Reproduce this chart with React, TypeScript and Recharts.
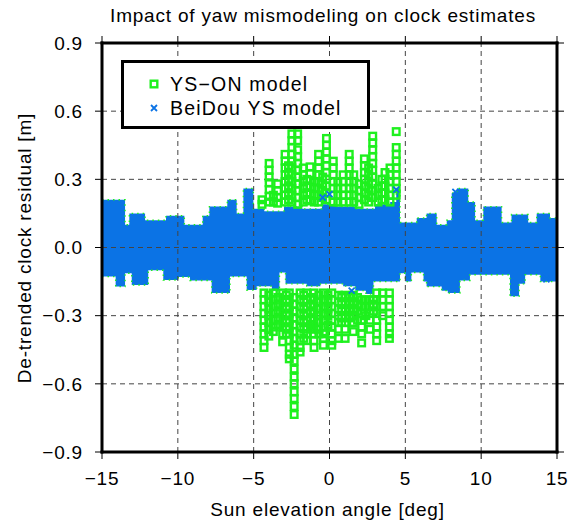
import React from 'react'
import {
  ComposedChart, Area, Scatter, XAxis, YAxis, ReferenceLine, Legend,
} from 'recharts'

// couleurs et police
const BLUE = '#0b73e5'
const GREEN = '#1ef01e'
const FONT = '"Liberation Sans", Arial, sans-serif'

const X_TICKS = [-15, -10, -5, 0, 5, 10, 15]
const Y_TICKS = [-0.9, -0.6, -0.3, 0, 0.3, 0.6, 0.9]

// enveloppe de la bande bleue (BeiDou YS), en escalier
const UPPER_X = [-15, -13.48, -13.2, -12.16, -10.78, -9.57, -8.36, -7.92, -6.74, -6.12, -5.68, -5.02, -4.3, -3.0, -1.8, -0.5, 0.5, 1.8, 3.0, 4.0, 4.4, 4.65, 5.75, 6.4, 7.07, 7.73, 8.06, 8.4, 9.15, 9.6, 10.14, 11.35, 12.0, 13.1, 13.66, 14.54]
const UPPER_Y = [0.21, 0.10, 0.15, 0.12, 0.14, 0.10, 0.14, 0.18, 0.21, 0.15, 0.26, 0.17, 0.16, 0.18, 0.17, 0.19, 0.18, 0.17, 0.19, 0.2, 0.26, 0.11, 0.13, 0.15, 0.10, 0.12, 0.24, 0.26, 0.20, 0.12, 0.18, 0.11, 0.145, 0.11, 0.15, 0.13]
const LOWER_X = [-15, -14.1, -13.48, -13.04, -11.95, -10.96, -9.97, -9.2, -7.77, -6.56, -5.46, -4.8, -3.8, -3.3, -2.9, -1.5, -0.6, 0.9, 1.7, 2.4, 2.9, 4.65, 5.0, 5.4, 6.2, 6.4, 7.4, 7.8, 8.6, 9.26, 11.9, 12.5, 12.9, 13.9]
const LOWER_Y = [-0.128, -0.172, -0.113, -0.165, -0.10, -0.143, -0.13, -0.145, -0.20, -0.128, -0.187, -0.17, -0.19, -0.11, -0.16, -0.17, -0.16, -0.17, -0.19, -0.205, -0.15, -0.113, -0.15, -0.11, -0.15, -0.172, -0.19, -0.20, -0.145, -0.12, -0.215, -0.16, -0.12, -0.15]

// quelques croix bleues isolées hors de la bande
const BLUE_OUTLIERS = [
  { x: 0.0, y: 0.235 }, { x: 4.4, y: 0.255 }, { x: 8.3, y: 0.245 },
  { x: 1.46, y: -0.19 }, { x: 14.3, y: -0.14 }, { x: -0.45, y: 0.22 },
]

// colonnes de carrés verts (YS-ON) visibles hors de la bande
const GREEN_UPPER = [
  { x: -4.45, ys: [0.21, 0.19] },
  { x: -3.98, ys: [0.37, 0.34, 0.31, 0.285, 0.255, 0.225, 0.2] },
  { x: -3.7, ys: [0.23, 0.2] },
  { x: -3.42, ys: [0.28, 0.25, 0.22, 0.195] },
  { x: -2.93, ys: [0.41, 0.38, 0.35, 0.32, 0.29, 0.26, 0.23, 0.2] },
  { x: -2.7, ys: [0.36, 0.33, 0.3, 0.27, 0.24, 0.21] },
  { x: -2.48, ys: [0.5, 0.47, 0.44, 0.41, 0.38, 0.35, 0.32, 0.29, 0.26, 0.23, 0.2] },
  { x: -2.1, ys: [0.5, 0.47, 0.43, 0.4, 0.37, 0.34, 0.31, 0.28, 0.25, 0.22, 0.19] },
  { x: -1.73, ys: [0.35, 0.32, 0.29, 0.26, 0.23, 0.2] },
  { x: -1.5, ys: [0.3, 0.27, 0.24, 0.21] },
  { x: -1.28, ys: [0.355, 0.325, 0.295, 0.265, 0.235, 0.205] },
  { x: -1.0, ys: [0.29, 0.26, 0.23, 0.2] },
  { x: -0.72, ys: [0.41, 0.38, 0.35, 0.32, 0.29, 0.26, 0.23, 0.2] },
  { x: -0.45, ys: [0.31, 0.28, 0.25, 0.22] },
  { x: -0.2, ys: [0.48, 0.45, 0.42, 0.39, 0.36, 0.33, 0.3, 0.27, 0.24, 0.21] },
  { x: 0.25, ys: [0.38, 0.35, 0.32, 0.29, 0.26, 0.23, 0.2] },
  { x: 0.55, ys: [0.29, 0.26, 0.23, 0.2] },
  { x: 0.9, ys: [0.32, 0.29, 0.26, 0.23, 0.2] },
  { x: 1.3, ys: [0.41, 0.38, 0.35, 0.32, 0.29, 0.26, 0.23, 0.2] },
  { x: 1.6, ys: [0.32, 0.29, 0.26, 0.23, 0.2] },
  { x: 1.95, ys: [0.28, 0.25, 0.22, 0.19] },
  { x: 2.3, ys: [0.39, 0.36, 0.33, 0.3, 0.27, 0.24, 0.21] },
  { x: 2.58, ys: [0.35, 0.32, 0.29, 0.26, 0.23, 0.2] },
  { x: 2.85, ys: [0.49, 0.46, 0.43, 0.4, 0.37, 0.34, 0.31, 0.28, 0.25, 0.22] },
  { x: 3.2, ys: [0.26, 0.23, 0.2] },
  { x: 3.45, ys: [0.3, 0.27, 0.24, 0.21] },
  { x: 3.66, ys: [0.33, 0.3, 0.27, 0.24, 0.21] },
  { x: 3.99, ys: [0.35, 0.32, 0.29, 0.26, 0.23, 0.2] },
  { x: 4.4, ys: [0.51, 0.44, 0.41, 0.38, 0.35, 0.32, 0.29, 0.26, 0.23] },
]
const GREEN_LOWER = [
  { x: -4.32, ys: [-0.2, -0.23, -0.26, -0.29, -0.32, -0.35, -0.38, -0.41, -0.44] },
  { x: -4.0, ys: [-0.21, -0.24, -0.27, -0.3, -0.33, -0.36, -0.39] },
  { x: -3.7, ys: [-0.2, -0.23, -0.26, -0.29, -0.32, -0.35, -0.37] },
  { x: -3.4, ys: [-0.22, -0.25, -0.28, -0.31, -0.34] },
  { x: -3.09, ys: [-0.2, -0.23, -0.26, -0.29, -0.32, -0.35, -0.38, -0.415] },
  { x: -2.85, ys: [-0.21, -0.24, -0.27, -0.3, -0.33, -0.36, -0.38] },
  { x: -2.65, ys: [-0.2, -0.23, -0.26, -0.29, -0.32, -0.35, -0.38, -0.41, -0.44, -0.47, -0.49] },
  { x: -2.33, ys: [-0.22, -0.25, -0.28, -0.31, -0.34, -0.37, -0.4, -0.43, -0.47, -0.5, -0.535, -0.57, -0.6, -0.635, -0.665, -0.7, -0.735] },
  { x: -1.94, ys: [-0.2, -0.23, -0.26, -0.29, -0.32, -0.35, -0.38, -0.41, -0.44, -0.46] },
  { x: -1.7, ys: [-0.21, -0.24, -0.27, -0.3, -0.33, -0.36, -0.4] },
  { x: -1.5, ys: [-0.2, -0.23, -0.26, -0.29, -0.32, -0.35, -0.38, -0.41] },
  { x: -1.25, ys: [-0.22, -0.25, -0.28, -0.31, -0.34, -0.36] },
  { x: -1.02, ys: [-0.2, -0.23, -0.26, -0.29, -0.32, -0.35, -0.38, -0.41, -0.44] },
  { x: -0.7, ys: [-0.21, -0.24, -0.27, -0.3, -0.33, -0.36, -0.38] },
  { x: -0.4, ys: [-0.2, -0.23, -0.26, -0.29, -0.32, -0.35, -0.38, -0.4, -0.43] },
  { x: -0.1, ys: [-0.21, -0.24, -0.27, -0.3, -0.34] },
  { x: 0.15, ys: [-0.2, -0.23, -0.26, -0.29, -0.32, -0.35, -0.38, -0.41, -0.43] },
  { x: 0.59, ys: [-0.21, -0.24, -0.27, -0.3, -0.33, -0.36, -0.4] },
  { x: 0.8, ys: [-0.22, -0.25, -0.28, -0.31, -0.33] },
  { x: 1.03, ys: [-0.21, -0.24, -0.27, -0.3, -0.33, -0.36, -0.4] },
  { x: 1.3, ys: [-0.22, -0.25, -0.28, -0.31] },
  { x: 1.57, ys: [-0.21, -0.24, -0.27, -0.3, -0.33, -0.37] },
  { x: 1.85, ys: [-0.22, -0.25, -0.28, -0.32] },
  { x: 2.12, ys: [-0.23, -0.26, -0.29, -0.32, -0.35, -0.38, -0.42] },
  { x: 2.4, ys: [-0.23, -0.26, -0.3] },
  { x: 2.67, ys: [-0.23, -0.26, -0.29, -0.32, -0.36] },
  { x: 2.9, ys: [-0.23, -0.25, -0.28] },
  { x: 3.11, ys: [-0.2, -0.23, -0.26, -0.29, -0.32, -0.35, -0.38, -0.41] },
  { x: 3.5, ys: [-0.2, -0.23, -0.26, -0.3] },
  { x: 3.95, ys: [-0.2, -0.23, -0.26, -0.29, -0.32, -0.35, -0.38, -0.4] },
]

// table construite à partir des enveloppes
const stepAt = (xs: number[], ys: number[], x: number) => {
  let v = ys[0]
  xs.forEach((bx, i) => { if (bx <= x) v = ys[i] })
  return v
}
const breaks = Array.from(new Set([...UPPER_X, ...LOWER_X, 15])).sort((a, b) => a - b)
const bandData = breaks.map(x => ({
  x,
  band: [stepAt(LOWER_X, LOWER_Y, x), stepAt(UPPER_X, UPPER_Y, x)],
}))
const greenPoints = [...GREEN_UPPER, ...GREEN_LOWER].flatMap(c => c.ys.map(y => ({ x: c.x, y })))

const fmt = (v: number, d: number) => (v < 0 ? '\u2212' : '') + Math.abs(v).toFixed(d)

const SquareMark = ({ cx, cy }: any) => (
  <rect x={cx - 3.3} y={cy - 3.3} width={6.6} height={6.6} fill="none" stroke={GREEN} strokeWidth={2.4} />
)
const CrossMark = ({ cx, cy }: any) => (
  <path d={`M${cx - 3},${cy - 3}L${cx + 3},${cy + 3}M${cx - 3},${cy + 3}L${cx + 3},${cy - 3}`} stroke={BLUE} strokeWidth={1.8} />
)

const textStyle = { fontFamily: FONT, fontSize: 19, letterSpacing: 0.8, color: '#000' }

const LegendBox = () => (
  <div style={{
    ...textStyle, fontSize: 19.5, letterSpacing: 1.2, width: 249, height: 69, boxSizing: 'border-box',
    border: '3px solid #000', background: '#fff', position: 'relative',
  }}>
    <svg width={20} height={60} style={{ position: 'absolute', left: 20, top: 0 }}>
      <SquareMark cx={10} cy={21} />
      <CrossMark cx={10} cy={45} />
    </svg>
    <div style={{ position: 'absolute', left: 46, top: 10, lineHeight: '22px' }}>YS{'\u2212'}ON model</div>
    <div style={{ position: 'absolute', left: 46, top: 34, lineHeight: '22px' }}>BeiDou YS model</div>
  </div>
)

const frame = { stroke: '#000', strokeWidth: 3, strokeLinecap: 'square' as const }
const tickLine = { stroke: '#000', strokeWidth: 1 }
const gridStyle = { stroke: '#444', strokeWidth: 1, strokeDasharray: '5 4' }

export default function App() {
  return (
    <div style={{ position: 'relative', width: 570, height: 522, background: '#fff' }}>
      <style>{'body{margin:0}'}</style>
      <div style={{ ...textStyle, position: 'absolute', left: 0, width: 646, top: 5, textAlign: 'center' }}>
        Impact of yaw mismodeling on clock estimates
      </div>
      <div style={{ ...textStyle, position: 'absolute', left: 0, width: 655, top: 499, textAlign: 'center' }}>
        Sun elevation angle [deg]
      </div>
      <div style={{
        ...textStyle, position: 'absolute', left: 25, top: 248, whiteSpace: 'nowrap',
        transform: 'translate(-50%, -50%) rotate(-90deg)',
      }}>
        De-trended clock residual [m]
      </div>
      <ComposedChart width={570} height={522} data={bandData} margin={{ top: 33, right: 3, left: 0, bottom: 0 }}>
        <XAxis
          dataKey="x" type="number" domain={[-15, 15]} ticks={X_TICKS} allowDataOverflow
          height={70} axisLine={frame} tickLine={tickLine} tickSize={7} tickMargin={13}
          tickFormatter={(v: number) => fmt(v, 0)}
          tick={{ fontFamily: FONT, fontSize: 19, fill: '#000', letterSpacing: 0.8 }}
        />
        <XAxis
          xAxisId="top" orientation="top" dataKey="x" type="number" domain={[-15, 15]} ticks={X_TICKS}
          allowDataOverflow height={10} axisLine={frame} tickLine={tickLine} tickSize={7}
          tickFormatter={() => ''}
        />
        <YAxis
          type="number" domain={[-0.9, 0.9]} ticks={Y_TICKS} allowDataOverflow
          width={102} axisLine={frame} tickLine={tickLine} tickSize={7} tickMargin={12}
          tickFormatter={(v: number) => fmt(v, 1)}
          tick={{ fontFamily: FONT, fontSize: 19, fill: '#000', letterSpacing: 0.8 }}
        />
        <YAxis
          yAxisId="right" orientation="right" type="number" domain={[-0.9, 0.9]} ticks={Y_TICKS}
          allowDataOverflow width={10} axisLine={frame} tickLine={tickLine} tickSize={7}
          tickFormatter={() => ''}
        />
        <Scatter name="YS-ON model" data={greenPoints} dataKey="y" shape={SquareMark} isAnimationActive={false} />
        <Area
          name="BeiDou YS model" dataKey="band" type="stepAfter" xAxisId="top" yAxisId="right"
          fill={BLUE} fillOpacity={1} stroke={GREEN} strokeWidth={1.4} strokeDasharray="1.5 4"
          isAnimationActive={false}
        />
        <Scatter name="BeiDou YS outliers" data={BLUE_OUTLIERS} dataKey="y" shape={CrossMark} isAnimationActive={false} />
        {X_TICKS.slice(1, -1).map(v => (
          <ReferenceLine key={'x' + v} x={v} {...gridStyle} />
        ))}
        {Y_TICKS.slice(1, -1).map(v => (
          <ReferenceLine key={'y' + v} y={v} {...gridStyle} />
        ))}
        <Legend
          layout="vertical" verticalAlign="middle" align="center"
          wrapperStyle={{ left: 121, top: 60, width: 249, height: 69 }}
          content={() => <LegendBox />}
        />
      </ComposedChart>
    </div>
  )
}
